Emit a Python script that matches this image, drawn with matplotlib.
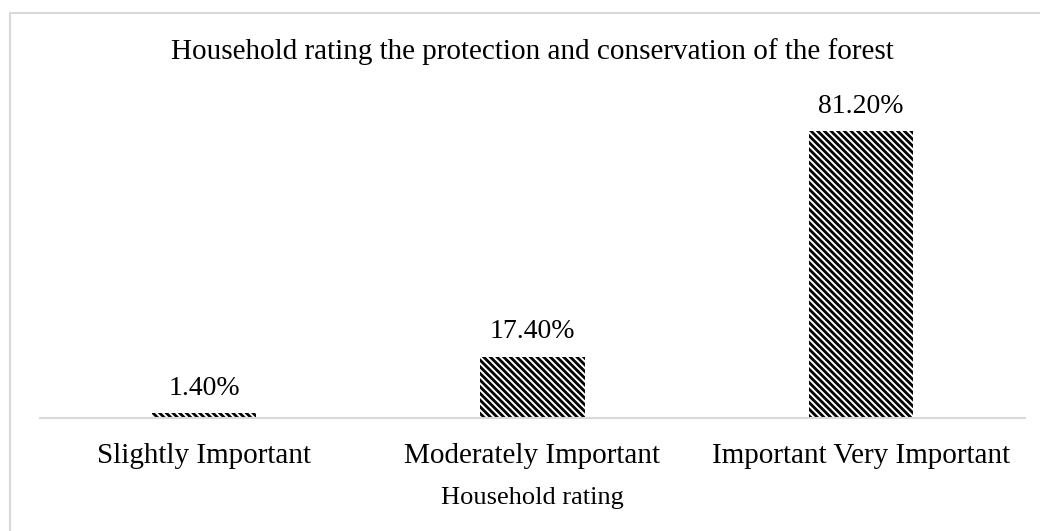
import matplotlib
matplotlib.use("Agg")
import matplotlib.pyplot as plt
from matplotlib.patches import Rectangle

categories = ["Slightly Important", "Moderately Important", "Important Very Important"]
shares = [1.4, 17.4, 81.2]
value_labels = ["1.40%", "17.40%", "81.20%"]

plt.rcParams['font.family'] = ['Liberation Serif', 'DejaVu Serif']
plt.rcParams['hatch.linewidth'] = 2.0

fig = plt.figure(figsize=(10.4, 5.31), dpi=100)

# light grey chart border (right and bottom edges run off the canvas)
fig.patches.append(Rectangle((10 / 1040, -0.05), 1.05, 1 - 13 / 531 + 0.05,
                             transform=fig.transFigure, fill=False,
                             edgecolor='#d9d9d9', linewidth=1.5))

ax = fig.add_axes([40 / 1040, 1 - 418 / 531, 985 / 1040, 318 / 531])

x = range(len(categories))
ax.bar(x, shares, width=0.317, facecolor='white', edgecolor='black',
       linewidth=0, hatch='\\' * 5)

for xi, v, lab in zip(x, shares, value_labels):
    ax.annotate(lab, (xi, v), xytext=(0, 13), textcoords='offset points',
                ha='center', va='baseline', fontsize=20)

ax.set_xlim(-0.5, 2.5)
ax.set_ylim(0, 90)
ax.set_xticks(list(x))
ax.set_xticklabels(categories, fontsize=21)
ax.tick_params(axis='x', length=0, pad=18)
ax.set_yticks([])
for side in ['top', 'right', 'left']:
    ax.spines[side].set_visible(False)
ax.spines['bottom'].set_color('#d9d9d9')
ax.spines['bottom'].set_linewidth(1.5)

ax.set_xlabel("Household rating", fontsize=19, labelpad=13)

fig.text(532.5 / 1040, 1 - 59 / 531,
         "Household rating the protection and conservation of the forest",
         ha='center', va='baseline', fontsize=21)

fig.savefig("out.png", dpi=100)
